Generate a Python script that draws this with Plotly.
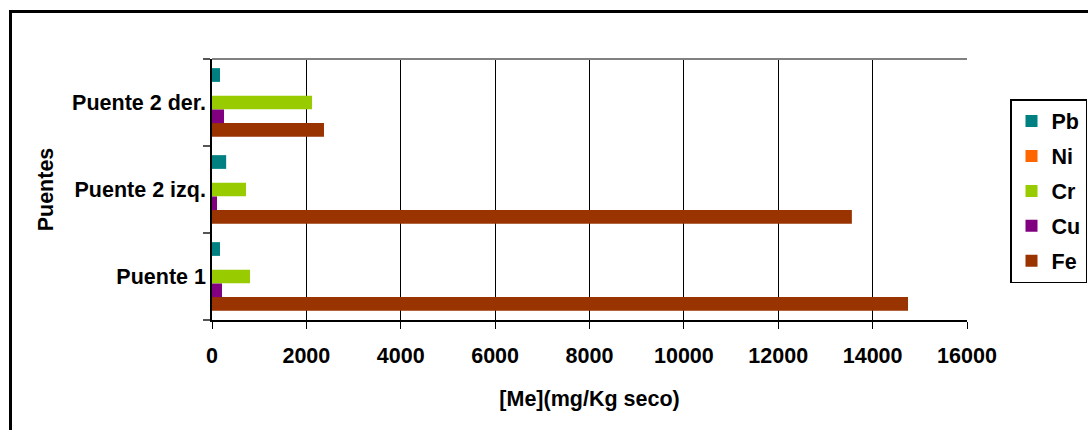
import plotly.graph_objects as go

# Sampling sites (bottom to top) and metal concentrations in mg/Kg dry weight
puentes = ["Puente 1", "Puente 2 izq.", "Puente 2 der."]
pb = [170, 300, 170]
ni = [0, 0, 0]
cr = [805, 720, 2120]
cu = [212, 106, 254]
fe = [14750, 13560, 2373]

x_ticks = [0, 2000, 4000, 6000, 8000, 10000, 12000, 14000, 16000]

FONT = "Arial, Liberation Sans, sans-serif"

# (name, values, colour, legend rank); drawn bottom-to-top within each group
series = [
    ("Fe", fe, "#993300", 5),
    ("Cu", cu, "#800080", 4),
    ("Cr", cr, "#99CC00", 3),
    ("Ni", ni, "#FF6600", 2),
    ("Pb", pb, "#008080", 1),
]

fig = go.Figure()
for name, vals, color, rank in series:
    fig.add_trace(go.Bar(
        y=puentes, x=vals, name=name, orientation="h",
        marker=dict(color=color, line=dict(width=0)),
        legendgroup=name, legendrank=rank,
    ))

W, H = 1088, 430
L, R, T, B = 212, 121, 59, 110
pw, ph = W - L - R, H - T - B

def px_x(p):
    return (p - L) / pw

def px_y(p):
    return 1 - (p - T) / ph

bold = dict(family=FONT, size=21.5, color="black", weight="bold")

fig.update_layout(
    width=W, height=H,
    margin=dict(l=L, r=R, t=T, b=B, autoexpand=False),
    paper_bgcolor="white", plot_bgcolor="white",
    barmode="group", bargap=0.21, bargroupgap=0,
    font=bold,
    showlegend=True,
    legend=dict(
        x=px_x(1010), y=px_y(99), xanchor="left", yanchor="top",
        traceorder="grouped", tracegroupgap=4,
        bordercolor="black", borderwidth=1.5,
        font=bold,
        itemwidth=30,
    ),
    xaxis=dict(
        range=[0, 16000], tickvals=x_ticks, ticktext=[str(v) for v in x_ticks],
        showgrid=True, gridcolor="black", gridwidth=1,
        showline=True, linecolor="black", linewidth=1.5,
        ticks="outside", ticklen=7, tickcolor="black", tickwidth=1,
        ticklabelstandoff=8,
        zeroline=False,
        tickfont=bold,
        title=dict(text="[Me](mg/Kg seco)", standoff=24, font=bold),
        fixedrange=True,
    ),
    yaxis=dict(
        type="category", categoryorder="array", categoryarray=puentes,
        tickson="boundaries", ticks="outside", ticklen=7,
        tickcolor="#555555", tickwidth=1.5,
        showgrid=False, showline=True, linecolor="black", linewidth=1.5,
        zeroline=False,
        tickfont=bold,
        title=dict(text="Puentes", standoff=13, font=bold),
        fixedrange=True,
    ),
    shapes=[
        # plot area top border
        dict(type="line", xref="paper", yref="paper", x0=0, x1=1, y0=1, y1=1,
             line=dict(color="#808080", width=2)),
        # outer chart frame (left and top edges)
        dict(type="line", xref="paper", yref="paper",
             x0=px_x(10.5), x1=px_x(10.5), y0=px_y(11.5), y1=px_y(432),
             line=dict(color="black", width=3)),
        dict(type="line", xref="paper", yref="paper",
             x0=px_x(9), x1=px_x(1090), y0=px_y(11.5), y1=px_y(11.5),
             line=dict(color="black", width=3)),
    ],
)

fig.write_html("out.html")
